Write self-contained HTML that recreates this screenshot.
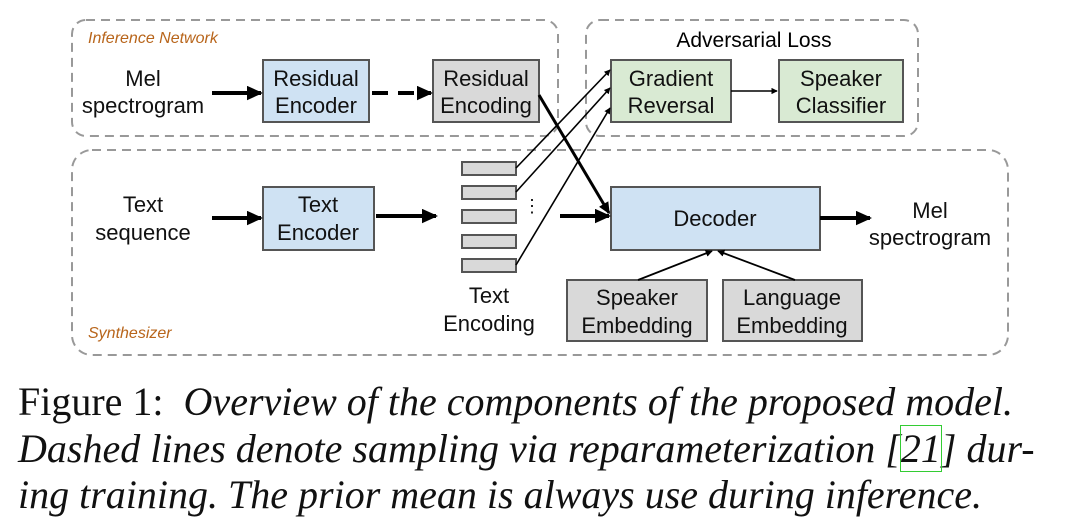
<!DOCTYPE html>
<html><head><style>
body{margin:0;background:#fff;width:1080px;height:527px;overflow:hidden;font-family:"Liberation Sans",sans-serif}
svg text{font-family:"Liberation Sans",sans-serif}
.cap{position:absolute;left:18px;font-family:"Liberation Serif",serif;font-size:40px;color:#111;white-space:nowrap;line-height:44px}
</style></head><body>
<svg width="1080" height="370" style="position:absolute;left:0;top:0">
<defs>
<marker id="a" markerWidth="4" markerHeight="4" refX="3.5" refY="2" orient="auto" markerUnits="strokeWidth"><path d="M0,0L4,2L0,4z" fill="#000"/></marker>
<marker id="b" markerWidth="4" markerHeight="4" refX="3.5" refY="1.8" orient="auto" markerUnits="strokeWidth"><path d="M0,0L4,1.8L0,3.6z" fill="#000"/></marker>
</defs>
<g fill="none" stroke="#999" stroke-width="2" stroke-dasharray="9,6">
<rect x="72" y="20" width="486" height="116" rx="14"/>
<rect x="586" y="20" width="332" height="116" rx="14"/>
<rect x="72" y="150" width="936" height="205" rx="20"/>
</g>
<text x="88" y="43" font-size="16" font-style="italic" fill="#b8651b">Inference Network</text>
<text x="88" y="338" font-size="16" font-style="italic" fill="#b8651b">Synthesizer</text>
<text x="754" y="47" font-size="21" text-anchor="middle">Adversarial Loss</text>
<g stroke="#555" stroke-width="2">
<rect x="263" y="60" width="106" height="62" fill="#cfe2f3"/>
<rect x="433" y="60" width="106" height="62" fill="#d9d9d9"/>
<rect x="611" y="60" width="120" height="62" fill="#d9ead3"/>
<rect x="779" y="60" width="124" height="62" fill="#d9ead3"/>
<rect x="263" y="187" width="111" height="63" fill="#cfe2f3"/>
<rect x="611" y="187" width="209" height="63" fill="#cfe2f3"/>
<rect x="567" y="280" width="140" height="61" fill="#d9d9d9"/>
<rect x="723" y="280" width="139" height="61" fill="#d9d9d9"/>
<rect x="462" y="162" width="54" height="13" fill="#d9d9d9"/>
<rect x="462" y="186" width="54" height="13" fill="#d9d9d9"/>
<rect x="462" y="210" width="54" height="13" fill="#d9d9d9"/>
<rect x="462" y="235" width="54" height="13" fill="#d9d9d9"/>
<rect x="462" y="259" width="54" height="13" fill="#d9d9d9"/>
</g>
<g font-size="22" text-anchor="middle" fill="#111">
<text x="143" y="86">Mel</text><text x="143" y="113">spectrogram</text>
<text x="316" y="86">Residual</text><text x="316" y="113">Encoder</text>
<text x="486" y="86">Residual</text><text x="486" y="113">Encoding</text>
<text x="671" y="86">Gradient</text><text x="671" y="113">Reversal</text>
<text x="841" y="86">Speaker</text><text x="841" y="113">Classifier</text>
<text x="143" y="212">Text</text><text x="143" y="240">sequence</text>
<text x="318" y="212">Text</text><text x="318" y="240">Encoder</text>
<text x="715" y="226">Decoder</text>
<text x="930" y="218">Mel</text><text x="930" y="245">spectrogram</text>
<text x="489" y="303">Text</text><text x="489" y="331">Encoding</text>
<text x="637" y="305">Speaker</text><text x="637" y="333">Embedding</text>
<text x="792" y="305">Language</text><text x="792" y="333">Embedding</text>
<text x="532" y="212" font-size="18">⋮</text>
</g>
<g stroke="#000" fill="none">
<line x1="212" y1="93" x2="261" y2="93" stroke-width="4" marker-end="url(#b)"/>
<line x1="372" y1="93" x2="431" y2="93" stroke-width="4" stroke-dasharray="16,10" marker-end="url(#b)"/>
<line x1="539" y1="95" x2="609" y2="213" stroke-width="3" marker-end="url(#b)"/>
<line x1="212" y1="218" x2="261" y2="218" stroke-width="4" marker-end="url(#b)"/>
<line x1="376" y1="216" x2="436" y2="216" stroke-width="4" marker-end="url(#b)"/>
<line x1="560" y1="216" x2="609" y2="216" stroke-width="4" marker-end="url(#b)"/>
<line x1="820" y1="218" x2="870" y2="218" stroke-width="4" marker-end="url(#b)"/>
<line x1="516" y1="168" x2="610" y2="70" stroke-width="1.6" marker-end="url(#a)"/>
<line x1="516" y1="192" x2="610" y2="88" stroke-width="1.6" marker-end="url(#a)"/>
<line x1="516" y1="265" x2="610" y2="108" stroke-width="1.6" marker-end="url(#a)"/>
<line x1="731" y1="91" x2="777" y2="91" stroke-width="1.6" marker-end="url(#a)"/>
<line x1="638" y1="280" x2="712" y2="251" stroke-width="1.8" marker-end="url(#a)"/>
<line x1="795" y1="280" x2="718" y2="251" stroke-width="1.8" marker-end="url(#a)"/>
</g>
</svg>
<div class="cap" style="top:380px">Figure 1:&nbsp; <i>Overview of the components of the proposed model.</i></div>
<div class="cap" style="top:427px"><i>Dashed lines denote sampling via reparameterization [<span style="outline:1px solid #3c3">21</span>] dur-</i></div>
<div class="cap" style="top:473px"><i>ing training. The prior mean is always use during inference.</i></div>
</body></html>
